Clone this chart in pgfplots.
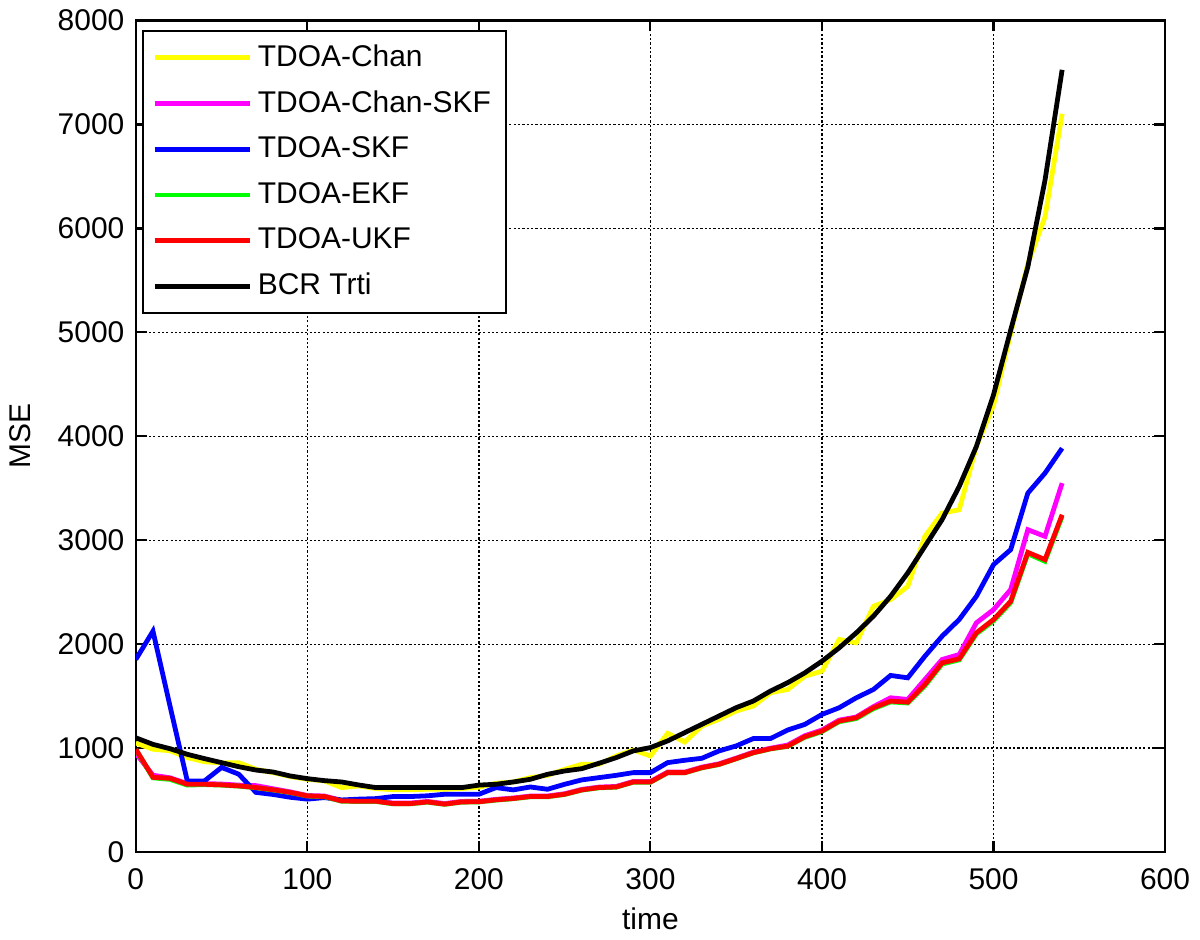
\documentclass[border=0pt]{standalone}
\usepackage{fontspec}
\setmainfont{Liberation Sans}
\usepackage{pgfplots}
\pgfplotsset{compat=1.18}

% MSE curves, sampled every 10 time steps
\pgfplotstableread{
t    chan  chanskf skf   ekf   ukf   bcr
0    1050  950     1854  985   990   1100
10   990   740     2126  715   720   1037
20   975   715     1400  700   710   995
30   910   660     685   645   653   941
40   870   660     685   650   653   900
50   858   655     815   645   647   861
60   861   645     750   635   637   822
70   797   640     575   620   622   790
80   765   610     555   598   600   771
90   727   580     528   573   575   733
100  701   545     510   540   541   707
110  685   540     525   533   535   688
120  621   497     502   490   492   675
130  637   495     510   488   490   646
140  612   495     515   488   490   621
150  600   472     535   465   467   621
160  600   472     535   465   467   621
170  605   488     542   481   483   621
180  605   467     557   460   462   621
190  612   488     557   481   483   621
200  625   490     557   483   485   645
210  663   508     621   501   503   653
220  675   521     599   514   516   675
230  717   540     627   533   535   701
240  739   540     605   533   535   749
250  797   562     653   555   557   781
260  845   604     695   597   599   803
270  845   626     717   619   621   855
280  925   632     739   625   627   909
290  983   680     765   673   675   974
300  925   680     765   673   675   1006
310  1143  770     861   763   765   1070
320  1060  770     884   763   765   1150
330  1214  818     903   811   813   1230
340  1278  850     974   843   845   1310
350  1358  905     1022  898   900   1390
360  1406  962     1093  955   957   1454
370  1534  1000    1093  993   995   1550
380  1565  1030    1175  1018  1020  1630
390  1693  1120    1229  1105  1111  1725
400  1741  1175    1325  1160  1165  1837
410  2046  1270    1389  1255  1261  1965
420  2014  1300    1485  1285  1293  2110
430  2365  1400    1565  1380  1389  2270
440  2430  1485    1700  1445  1453  2461
450  2557  1469    1677  1435  1443  2686
460  3038  1661    1885  1600  1613  2942
470  3262  1853    2077  1810  1821  3198
480  3294  1901    2238  1850  1860  3518
490  3902  2206    2461  2100  2110  3902
500  4300  2333    2766  2225  2238  4400
510  4990  2526    2910  2400  2413  5022
520  5660  3102    3454  2870  2884  5630
530  6110  3038    3646  2798  2814  6463
540  7103  3550    3886  3230  3246  7526
}\msedata

\begin{document}
\begin{tikzpicture}
\begin{axis}[
    scale only axis,
    width=343.7pt,
    height=277.7pt,
    xmin=0, xmax=600,
    ymin=0, ymax=8000,
    xtick={0,100,...,600},
    ytick={0,1000,...,8000},
    scaled y ticks=false,
    /pgf/number format/assume math mode=true,
    /pgf/number format/set thousands separator={},
    tick label style={font=\fontsize{10}{12}\selectfont},
    label style={font=\fontsize{10}{12}\selectfont},
    xticklabel style={yshift=-2pt},
    yticklabel style={xshift=-0.3pt},
    xlabel={time},
    ylabel={MSE},
    xlabel style={yshift=1pt},
    ylabel style={yshift=2pt},
    axis line style={line width=0.8pt},
    tick style={line width=0.7pt, black},
    major tick length=3.6pt,
    tick align=inside,
    xtick pos=both, ytick pos=both,
    grid=major,
    major grid style={black, line width=0.5pt, dash pattern=on 0.75pt off 0.7pt},
    legend cell align=left,
    legend style={at={(0.006,0.989)}, anchor=north west,
        draw=black, line width=0.8pt,
        font=\fontsize{10}{12}\selectfont,
        inner xsep=3pt, inner ysep=2.5pt,
        row sep=2.7pt},
    legend image code/.code={\draw[#1] (0pt,0pt) -- (31.7pt,0pt);},
    every axis plot/.append style={line width=1.6pt},
]
\addplot[color={rgb,1:red,1;green,1;blue,0}] table[x=t, y=chan] {\msedata};
\addplot[color={rgb,1:red,1;green,0;blue,1}] table[x=t, y=chanskf] {\msedata};
\addplot[color={rgb,1:red,0;green,0;blue,1}] table[x=t, y=skf] {\msedata};
\addplot[color={rgb,1:red,0;green,1;blue,0}] table[x=t, y=ekf] {\msedata};
\addplot[color={rgb,1:red,1;green,0;blue,0}] table[x=t, y=ukf] {\msedata};
\addplot[color=black] table[x=t, y=bcr] {\msedata};
\legend{TDOA-Chan, TDOA-Chan-SKF, TDOA-SKF, TDOA-EKF, TDOA-UKF, BCR Trti}
\end{axis}
\end{tikzpicture}
\end{document}
